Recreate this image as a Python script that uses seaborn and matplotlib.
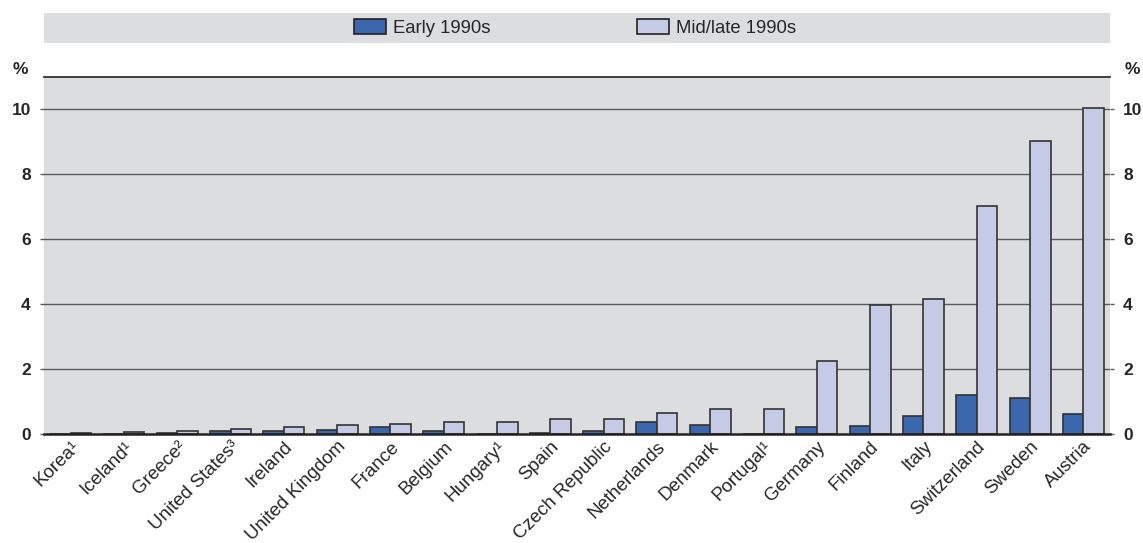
import matplotlib
matplotlib.use("Agg")
import matplotlib.pyplot as plt
import matplotlib.patches as mpatches
import seaborn as sns
import pandas as pd

countries = ["Korea¹", "Iceland¹", "Greece²", "United States³", "Ireland",
             "United Kingdom", "France", "Belgium", "Hungary¹", "Spain",
             "Czech Republic", "Netherlands", "Denmark", "Portugal¹", "Germany",
             "Finland", "Italy", "Switzerland", "Sweden", "Austria"]
early_1990s = [0.0, 0.0, 0.02, 0.09, 0.08, 0.11, 0.21, 0.08, 0.0, 0.03,
               0.08, 0.36, 0.29, 0.0, 0.23, 0.26, 0.54, 1.19, 1.12, 0.61]
mid_late_1990s = [0.04, 0.05, 0.09, 0.14, 0.23, 0.28, 0.31, 0.36, 0.37, 0.47,
                  0.47, 0.65, 0.77, 0.78, 2.25, 3.96, 4.16, 7.03, 9.02, 10.06]
series_names = ["Early 1990s", "Mid/late 1990s"]
series_colors = ["#3A67AE", "#C5CAE6"]
y_ticks = [0, 2, 4, 6, 8, 10]

df = pd.DataFrame({
    "country": countries * 2,
    "value": early_1990s + mid_late_1990s,
    "series": [series_names[0]] * len(countries) + [series_names[1]] * len(countries),
})

sns.set_style("white")
plt.rcParams["font.family"] = ["Liberation Sans", "DejaVu Sans"]

W, H = 1143, 543
fig = plt.figure(figsize=(W / 100, H / 100), dpi=100)
ax = fig.add_axes([44 / W, 1 - 434 / H, (1110 - 44) / W, (434 - 77) / H])
ax.set_facecolor("#DCDDDF")

sns.barplot(data=df, x="country", y="value", hue="series", order=countries,
            hue_order=series_names, palette=series_colors, width=0.77,
            edgecolor="#333333", linewidth=1.2, saturation=1, ax=ax, legend=False)

ax.set_ylim(0, 11)
ax.set_xlim(-0.5, len(countries) - 0.5)
ax.set_yticks(y_ticks)
for t in y_ticks[1:]:
    ax.axhline(t, color="#5a5a5a", lw=1.0, zorder=0.5)
ax.set_xlabel("")
ax.set_ylabel("")

for s in ["left", "right"]:
    ax.spines[s].set_visible(False)
ax.spines["top"].set_color("#333333")
ax.spines["top"].set_linewidth(1.3)
ax.spines["bottom"].set_color("#222222")
ax.spines["bottom"].set_linewidth(1.8)

ax.tick_params(axis="y", direction="out", left=True, right=True, labelleft=True,
               labelright=True, length=3, width=1, color="#5a5a5a", pad=6.5,
               labelsize=12.5)
for lbl in ax.get_yticklabels():
    lbl.set_fontweight("bold")
ax.tick_params(axis="x", length=0, pad=3, labelsize=13.5)
ax.set_xticks(range(len(countries)))
ax.set_xticklabels(countries, rotation=45, ha="right", rotation_mode="anchor")

fig.text(20 / W, 1 - 70 / H, "%", ha="center", va="center",
         fontsize=12.5, fontweight="bold")
fig.text(1132 / W, 1 - 70 / H, "%", ha="center", va="center",
         fontsize=12.5, fontweight="bold")

# legend band
band = mpatches.Rectangle((44 / W, 1 - 43 / H), (1110 - 44) / W, 30 / H,
                          transform=fig.transFigure, facecolor="#DCDDDF",
                          edgecolor="none", zorder=0)
fig.patches.append(band)
handles = [mpatches.Patch(facecolor=c, edgecolor="#222222", linewidth=1.2, label=n)
           for c, n in zip(series_colors, series_names)]
fig.legend(handles=handles, loc="center", bbox_to_anchor=(575 / W, 1 - 28 / H),
           ncol=2, frameon=False, fontsize=13.3, handlelength=1.75, handleheight=0.85,
           columnspacing=7.9, handletextpad=0.4)

fig.savefig("out.png", dpi=100)
